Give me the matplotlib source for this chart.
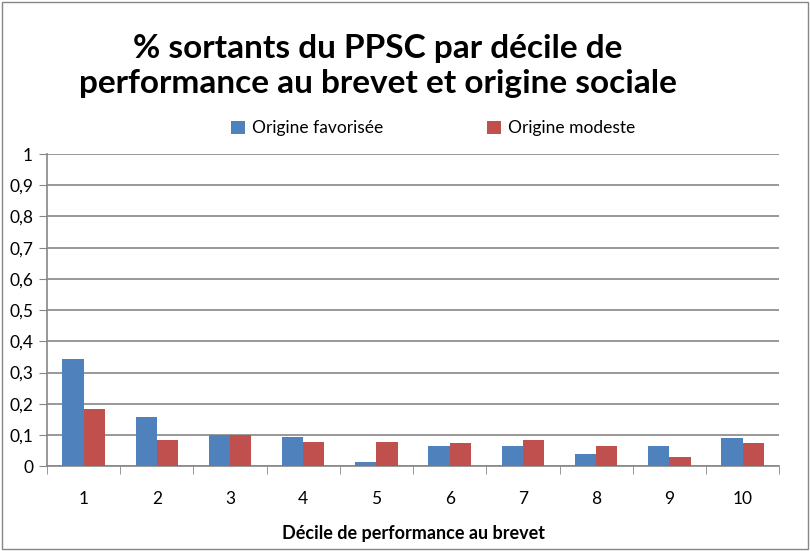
import numpy as np
import matplotlib.pyplot as plt
from matplotlib.patches import Rectangle

deciles = ["1", "2", "3", "4", "5", "6", "7", "8", "9", "10"]
favorisee = [0.342, 0.156, 0.101, 0.092, 0.012, 0.065, 0.065, 0.040, 0.065, 0.091]
modeste = [0.182, 0.085, 0.101, 0.076, 0.076, 0.075, 0.084, 0.065, 0.030, 0.075]

plt.rcParams['font.family'] = ['Lato', 'DejaVu Sans']

fig = plt.figure(figsize=(8.1, 5.51), dpi=100)
ax = fig.add_axes([0.058, 0.154, 0.904, 0.5665])

x = np.arange(len(deciles))
w = 0.29
ax.bar(x - w / 2, favorisee, w, color='#4f81bd', label='Origine favorisée', zorder=3)
ax.bar(x + w / 2, modeste, w, color='#c0504d', label='Origine modeste', zorder=3)

ax.set_xlim(-0.5, len(deciles) - 0.5)
ax.set_ylim(0, 1)
ax.set_yticks(np.arange(0, 1.01, 0.1))
ax.set_yticklabels(["0"] + [f"0,{i}" for i in range(1, 10)] + ["1"], fontsize=12.5)
ax.set_xticks(x)
ax.set_xticklabels(deciles, fontsize=12.5)
ax.set_xticks(np.arange(-0.5, len(deciles)), minor=True)
ax.tick_params(axis='x', which='major', length=0, pad=18)
ax.tick_params(axis='x', which='minor', length=6, color='#868686', direction='out')
ax.tick_params(axis='y', length=6, color='#868686', direction='out', pad=4)
ax.yaxis.grid(True, color='#868686', linewidth=1.2, zorder=0)
for s in ['top', 'right']:
    ax.spines[s].set_visible(False)
for s in ['left', 'bottom']:
    ax.spines[s].set_color('#868686')
    ax.spines[s].set_linewidth(1.2)

ax.set_xlabel('Décile de performance au brevet', fontsize=13, fontweight='bold', labelpad=13)

fig.text(0.466, 0.88, '% sortants du PPSC par décile de\nperformance au brevet et origine sociale',
         ha='center', va='center', fontsize=24, fontweight='bold', linespacing=1.25)
fig.legend(loc='center', bbox_to_anchor=(0.535, 0.767), ncol=2, frameon=False,
           fontsize=12.5, handlelength=0.8, handleheight=0.8, columnspacing=6, handletextpad=0.4)

fig.patches.append(Rectangle((0.002, 0.003), 0.996, 0.994, transform=fig.transFigure,
                             fill=False, edgecolor='#868686', linewidth=1))

fig.savefig('out.png', dpi=100)
